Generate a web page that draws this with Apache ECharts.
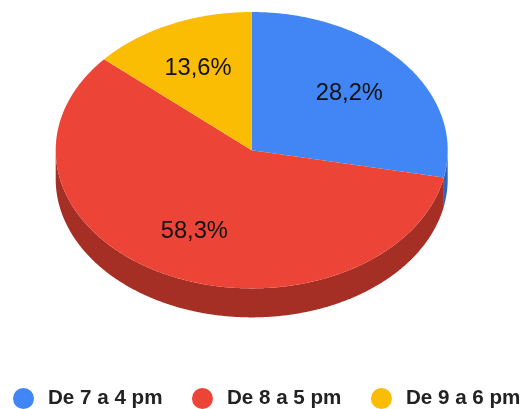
<!DOCTYPE html>
<html>
<head>
<meta charset="utf-8">
<style>html,body{margin:0;padding:0;background:#fff}#c{width:523px;height:409px}</style>
<script src="https://cdn.jsdelivr.net/npm/echarts@6/dist/echarts.min.js"></script>
</head>
<body>
<div id="c"></div>
<script>
const categories = ['De 7 a 4 pm', 'De 8 a 5 pm', 'De 9 a 6 pm'];
const values = [28.2, 58.3, 13.6];
const topColors = ['#4285f4', '#ec4436', '#fbbc04'];
const sideColors = ['#3164b5', '#a52f25', '#bb8c03'];

const total = values.reduce((a, b) => a + b, 0);
const CX = 251.7, CY = 150.2, RX = 196, RY = 138.2, DEPTH = 29, LABEL_R = 0.65;
const STEP = Math.PI / 360;

function pt(t, dy) {
  return [CX + RX * Math.sin(t), CY - RY * Math.cos(t) + (dy || 0)];
}
function arc(a, b, dy) {
  const out = [];
  const n = Math.max(1, Math.ceil((b - a) / STEP));
  for (let i = 0; i <= n; i++) out.push(pt(a + (b - a) * i / n, dy));
  return out;
}

const chart = echarts.init(document.getElementById('c'), null, { renderer: 'canvas' });
let cum = 0;
const series = categories.map((name, i) => {
  const start = cum / total * Math.PI * 2;
  cum += values[i];
  const end = cum / total * Math.PI * 2;
  return {
    type: 'custom',
    name,
    coordinateSystem: 'none',
    silent: true,
    itemStyle: { color: topColors[i] },
    data: [values[i]],
    renderItem: function (params, api) {
      const children = [];
      const vA = Math.max(start, Math.PI / 2), vB = Math.min(end, Math.PI * 1.5);
      if (vB > vA) {
        children.push({
          type: 'polygon', z2: 1,
          shape: { points: arc(vA, vB, 0).concat(arc(vA, vB, DEPTH).reverse()) },
          style: { fill: sideColors[i] }
        });
      }
      children.push({
        type: 'polygon', z2: 2,
        shape: { points: [[CX, CY]].concat(arc(start, end, 0)) },
        style: { fill: topColors[i] }
      });
      const mid = (start + end) / 2;
      children.push({
        type: 'text', z2: 3,
        x: CX + RX * LABEL_R * Math.sin(mid) - 1,
        y: CY - RY * LABEL_R * Math.cos(mid) + 0.5,
        style: {
          text: api.value(0).toFixed(1).replace('.', ',') + '%',
          font: '23.7px "Liberation Sans", Arial, sans-serif',
          fill: '#111111', align: 'center', verticalAlign: 'middle'
        }
      });
      return { type: 'group', children };
    }
  };
});

chart.setOption({
  animation: false,
  backgroundColor: '#ffffff',
  legend: {
    data: categories,
    left: 13, top: 388,
    icon: 'circle',
    itemWidth: 21, itemHeight: 21,
    itemGap: 29.5,
    padding: 0,
    selectedMode: false,
    textStyle: {
      fontFamily: '"Liberation Sans", Arial, sans-serif',
      fontWeight: 'bold', fontSize: 20.6, color: '#222222',
      padding: [0, 0, 0, 9]
    }
  },
  series
});
</script>
</body>
</html>
